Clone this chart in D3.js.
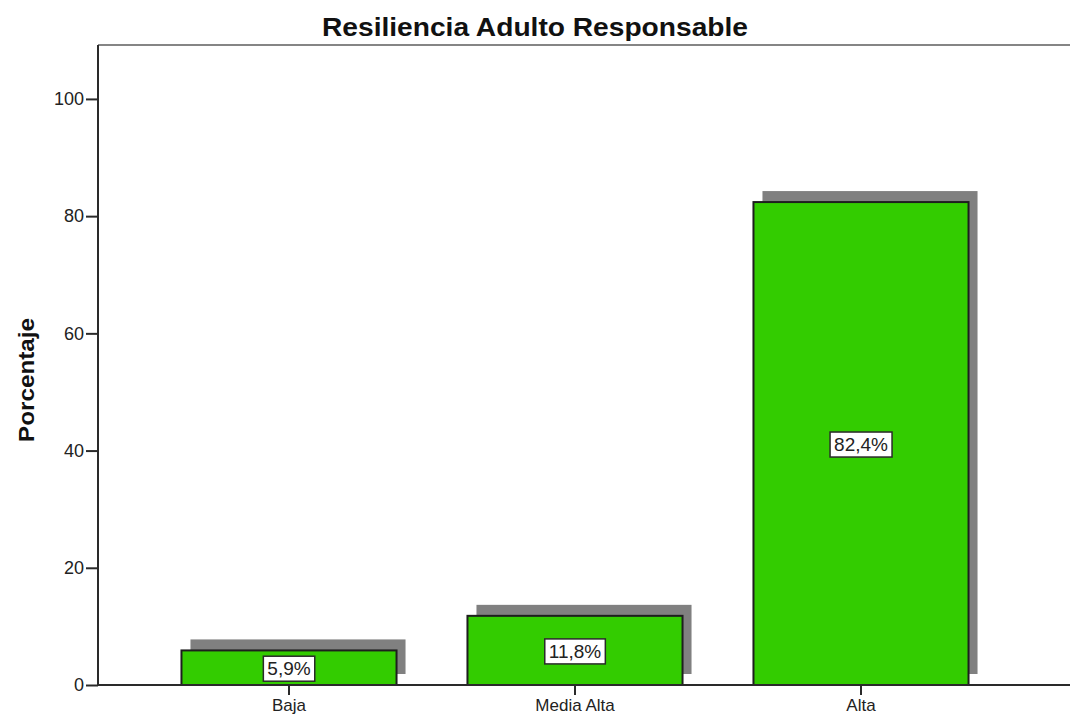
<!DOCTYPE html>
<html>
<head>
<meta charset="utf-8">
<script src="https://cdn.jsdelivr.net/npm/d3@7"></script>
<style>
  html, body { margin: 0; padding: 0; background: #fff; }
  svg { display: block; font-family: "Liberation Sans", Arial, sans-serif; }
</style>
</head>
<body>
<svg id="chart" width="1070" height="715"></svg>
<script>
const categories = ["Baja", "Media Alta", "Alta"];
const values = [5.9, 11.8, 82.4];
const valueLabels = ["5,9%", "11,8%", "82,4%"];
const yTicks = [0, 20, 40, 60, 80, 100];
const chartTitle = "Resiliencia Adulto Responsable";
const yTitle = "Porcentaje";

(function () {
const svg = d3.select("#chart");
const pLeft = 98, pTop = 45, pBottom = 685, pRight = 1072;

const x = d3.scaleBand().domain(categories).range([146, 1004])
  .paddingInner(0.248).paddingOuter(0.124);
const y = d3.scaleLinear().domain([0, 109.2]).range([pBottom, pTop]);

// top frame line
svg.append("line").attr("x1", pLeft).attr("x2", pRight).attr("y1", pTop).attr("y2", pTop)
  .attr("stroke", "#858585").attr("stroke-width", 2);

// shadows
const shX = 9, shY = -11;
svg.append("g").selectAll("rect").data(values).join("rect")
  .attr("x", (d, i) => x(categories[i]) + shX)
  .attr("y", d => y(d) + shY)
  .attr("width", x.bandwidth())
  .attr("height", d => y(0) - y(d))
  .attr("fill", "#808080");

// bars
svg.append("g").selectAll("rect").data(values).join("rect")
  .attr("x", (d, i) => x(categories[i]))
  .attr("y", d => y(d))
  .attr("width", x.bandwidth())
  .attr("height", d => y(0) - y(d))
  .attr("fill", "#33cc00")
  .attr("stroke", "#1e1e1e")
  .attr("stroke-width", 2);

// axes
const yAxis = svg.append("g").attr("transform", `translate(${pLeft},0)`)
  .call(d3.axisLeft(y).tickValues(yTicks).tickSize(12).tickPadding(2).tickFormat(d3.format("d")));
yAxis.select(".domain").remove();
yAxis.append("line").attr("x1", 0).attr("x2", 0).attr("y1", pTop).attr("y2", pBottom)
  .attr("stroke", "#2a2a2a").attr("stroke-width", 2);
yAxis.selectAll(".tick line").attr("stroke", "#2a2a2a").attr("stroke-width", 2);
yAxis.selectAll(".tick text").attr("font-size", 18).attr("fill", "#222")
  .attr("font-family", "Liberation Sans, Arial, sans-serif");

const xAxis = svg.append("g").attr("transform", `translate(0,${pBottom})`)
  .call(d3.axisBottom(x).tickSize(10).tickPadding(4));
xAxis.select(".domain").remove();
xAxis.append("line").attr("x1", pLeft).attr("x2", pRight).attr("y1", 0).attr("y2", 0)
  .attr("stroke", "#2a2a2a").attr("stroke-width", 2);
xAxis.selectAll(".tick line").attr("stroke", "#2a2a2a").attr("stroke-width", 2);
xAxis.selectAll(".tick text").attr("font-size", 17).attr("fill", "#222")
  .attr("font-family", "Liberation Sans, Arial, sans-serif");

// value labels
const lab = svg.append("g").selectAll("g").data(values).join("g")
  .attr("transform", (d, i) => `translate(${x(categories[i]) + x.bandwidth() / 2},${(y(d) + y(0)) / 2 + 1})`);
lab.append("text")
  .attr("text-anchor", "middle").attr("dominant-baseline", "central")
  .attr("font-size", 19).attr("fill", "#222")
  .text((d, i) => valueLabels[i]);
lab.each(function () {
  const g = d3.select(this);
  const bb = g.select("text").node().getBBox();
  g.insert("rect", "text")
    .attr("x", bb.x - 4).attr("y", -12.5)
    .attr("width", bb.width + 8).attr("height", 25)
    .attr("fill", "#fff").attr("stroke", "#2a2a2a").attr("stroke-width", 1.5);
});

// title
svg.append("text").attr("x", 535).attr("y", 36).attr("text-anchor", "middle")
  .attr("font-size", 26).attr("font-weight", "bold").attr("fill", "#111")
  .attr("textLength", 426).attr("lengthAdjust", "spacingAndGlyphs")
  .text(chartTitle);

// y title
svg.append("text").attr("transform", "translate(34,380) rotate(-90)")
  .attr("text-anchor", "middle")
  .attr("font-size", 22).attr("font-weight", "bold").attr("fill", "#111")
  .attr("textLength", 124).attr("lengthAdjust", "spacingAndGlyphs")
  .text(yTitle);
})();
</script>
</body>
</html>
